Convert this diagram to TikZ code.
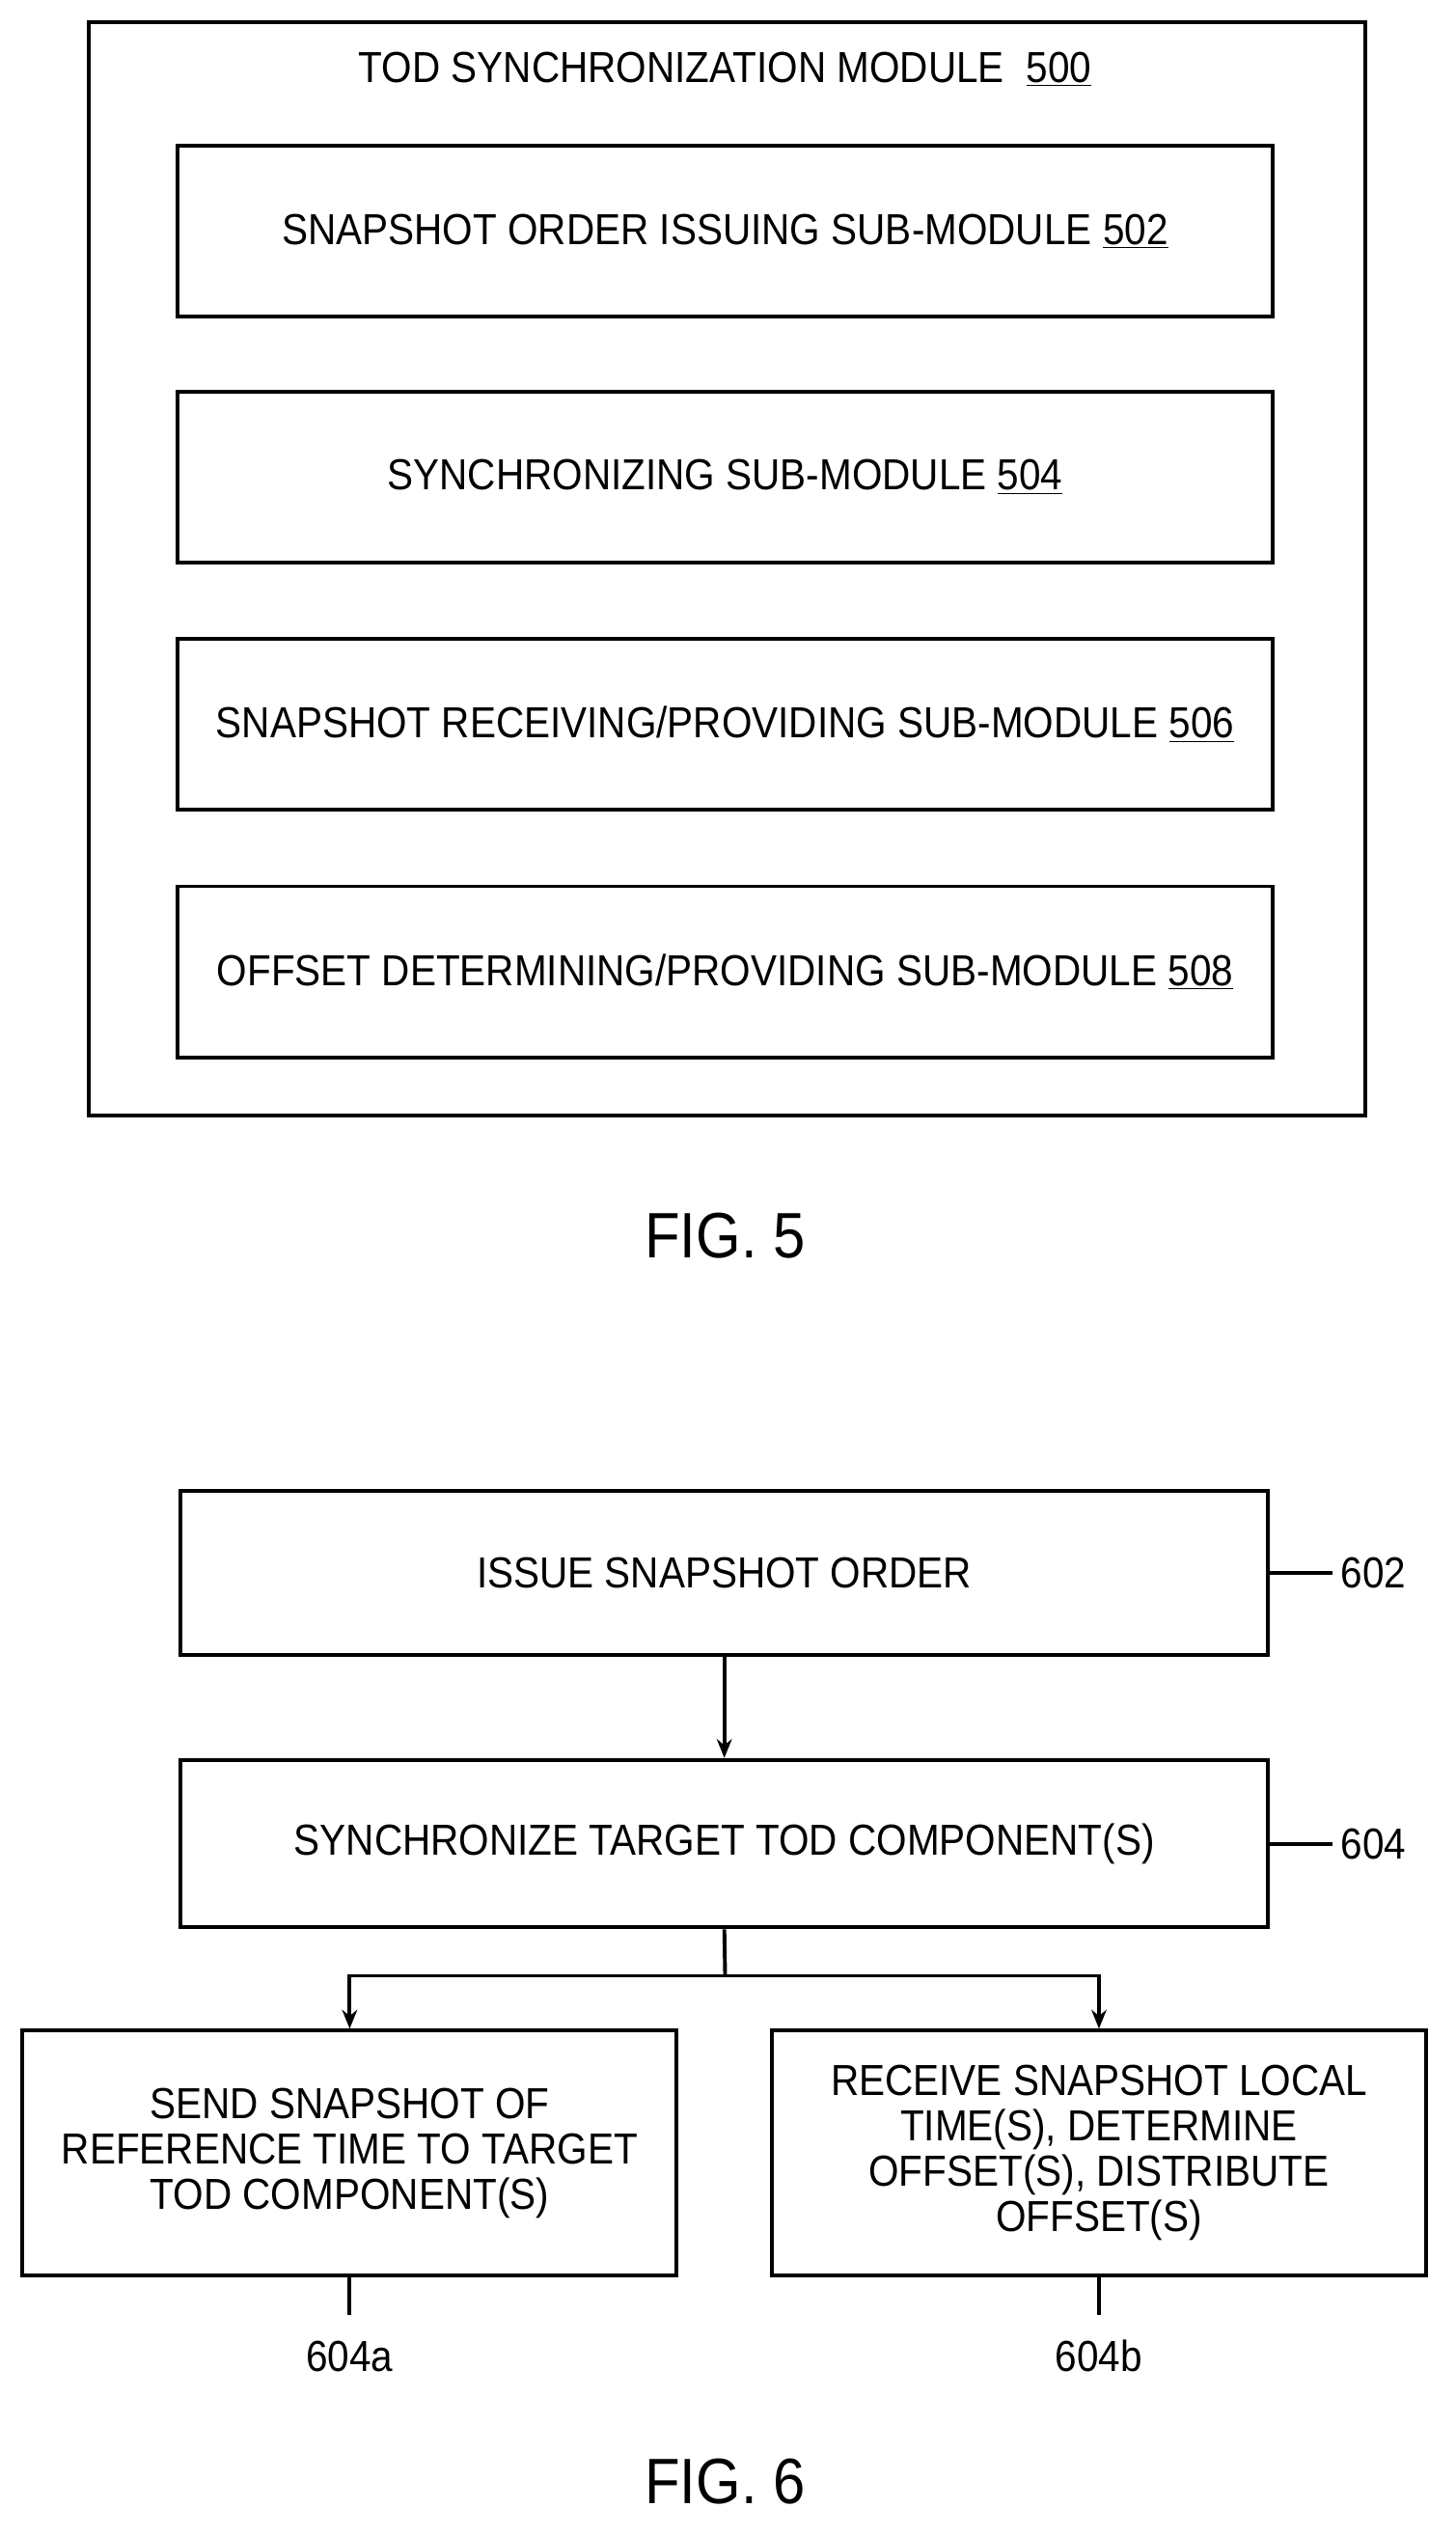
\documentclass[tikz,border=0pt]{standalone}
\usepackage{fontspec}
\setmainfont[FakeStretch=0.9]{Liberation Sans}
\usetikzlibrary{positioning,arrows.meta}
\begin{document}
\begin{tikzpicture}[x=0.03cm,y=-0.03cm,>={Stealth[length=10pt,width=8pt]},
  every path/.style={line width=2pt},
  box/.style={draw,line width=2pt,inner sep=0pt,minimum width=680*0.03cm,minimum height=106*0.03cm,
    font=\fontsize{23}{28}\selectfont},
  sbox/.style={draw,line width=2pt,inner sep=0pt,minimum width=406*0.03cm,minimum height=152*0.03cm,
    align=center,font=\fontsize{23}{24}\selectfont},
  lbl/.style={font=\fontsize{23}{28}\selectfont},
  fig/.style={font=\fontsize{34}{40}\selectfont}]
  \useasboundingbox (0,0) rectangle (903,1573);

  % FIG. 5
  \draw (55,14) rectangle (847,692);
  \node[lbl] (title) at (450,43) {TOD SYNCHRONIZATION MODULE\ \ \underline{500}};
  \node[box] (m502) at (450,143.5) {SNAPSHOT ORDER ISSUING SUB-MODULE \underline{502}};
  \node[box] (m504) at (450,296) {SYNCHRONIZING SUB-MODULE \underline{504}};
  \node[box] (m506) at (450,449.5) {SNAPSHOT RECEIVING/PROVIDING SUB-MODULE \underline{506}};
  \node[box] (m508) at (450,603) {OFFSET DETERMINING/PROVIDING SUB-MODULE \underline{508}};
  \node[fig] (fig5) at (450,767) {FIG. 5};

  % FIG. 6
  \node[box,minimum width=675*0.03cm,minimum height=102*0.03cm] (s602) at (449.5,976) {ISSUE SNAPSHOT ORDER};
  \node[box,minimum width=675*0.03cm,minimum height=104*0.03cm] (s604) at (449.5,1144) {SYNCHRONIZE TARGET TOD COMPONENT(S)};
  \node[sbox] (s604a) at (217,1336) {SEND SNAPSHOT OF\\REFERENCE TIME TO TARGET\\TOD COMPONENT(S)};
  \node[sbox] (s604b) at (682,1336) {RECEIVE SNAPSHOT LOCAL\\TIME(S), DETERMINE\\OFFSET(S), DISTRIBUTE\\OFFSET(S)};

  \node[lbl,anchor=west] (l602) at (827,976) {602};
  \node[lbl,anchor=west] (l604) at (827,1144) {604};
  \node[lbl] (l604a) at (217,1462) {604a};
  \node[lbl] (l604b) at (682,1462) {604b};
  \draw (s602.east) -- (l602.west);
  \draw (s604.east) -- (l604.west);
  \draw (s604a.south) -- ++(0,23);
  \draw (s604b.south) -- ++(0,23);

  \draw[->] (s602) -- (s604);
  \coordinate (split) at (450,1226);
  \draw (s604.south) -- (split);
  \draw[->] (split) -| (s604a.north);
  \draw[->] (split) -| (s604b.north);
  \node[fig] (fig6) at (450,1540) {FIG. 6};
\end{tikzpicture}
\end{document}
